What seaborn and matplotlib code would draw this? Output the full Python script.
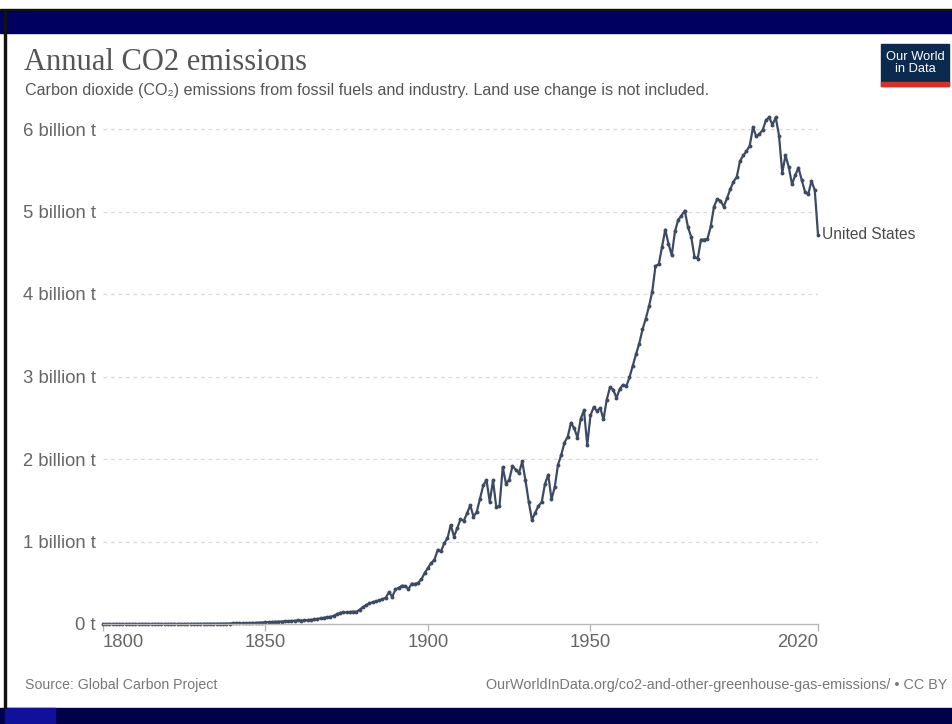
import numpy as np
import pandas as pd
import matplotlib
matplotlib.use('Agg')
import matplotlib.pyplot as plt
from matplotlib.patches import Rectangle
import seaborn as sns

# Annual CO2 emissions of the United States, billion tonnes
years = list(range(1800, 2021))
emissions = [
    # 1800s
    0.0003, 0.0003, 0.0003, 0.0003, 0.0004, 0.0004, 0.0004, 0.0004, 0.0004, 0.0005,
    0.0005, 0.0005, 0.0006, 0.0006, 0.0006, 0.0007, 0.0007, 0.0008, 0.0008, 0.0009,
    0.0009, 0.0010, 0.0011, 0.0012, 0.0013, 0.0014, 0.0015, 0.0016, 0.0018, 0.0019,
    0.0021, 0.0024, 0.0027, 0.0031, 0.0035, 0.0040, 0.0045, 0.0050, 0.0055, 0.0060,
    0.0065, 0.0070, 0.0078, 0.0088, 0.0098, 0.011, 0.012, 0.014, 0.016, 0.018,
    0.020, 0.022, 0.024, 0.026, 0.028, 0.030, 0.033, 0.035, 0.037, 0.040,
    0.043, 0.042, 0.044, 0.048, 0.052, 0.055, 0.062, 0.068, 0.075, 0.082,
    0.088, 0.100, 0.120, 0.135, 0.140, 0.140, 0.145, 0.150, 0.148, 0.175,
    0.205, 0.230, 0.250, 0.265, 0.275, 0.285, 0.300, 0.320, 0.385, 0.330,
    0.420, 0.440, 0.465, 0.460, 0.425, 0.490, 0.485, 0.500, 0.545, 0.620,
    # 1900s
    0.680, 0.740, 0.780, 0.900, 0.880, 0.980, 1.040, 1.200, 1.060, 1.160,
    1.270, 1.250, 1.340, 1.440, 1.300, 1.360, 1.520, 1.680, 1.745, 1.480,
    1.740, 1.420, 1.430, 1.900, 1.700, 1.750, 1.915, 1.870, 1.830, 1.970,
    1.740, 1.480, 1.260, 1.350, 1.430, 1.480, 1.700, 1.810, 1.510, 1.660,
    1.930, 2.050, 2.200, 2.270, 2.440, 2.370, 2.260, 2.490, 2.590, 2.170,
    2.530, 2.630, 2.580, 2.620, 2.480, 2.720, 2.870, 2.840, 2.740, 2.850,
    2.900, 2.880, 2.990, 3.130, 3.270, 3.400, 3.570, 3.700, 3.850, 4.030,
    4.340, 4.360, 4.570, 4.780, 4.610, 4.470, 4.760, 4.900, 4.950, 5.010,
    4.810, 4.690, 4.450, 4.430, 4.660, 4.660, 4.670, 4.820, 5.060, 5.150,
    5.130, 5.060, 5.160, 5.270, 5.360, 5.420, 5.610, 5.680, 5.730, 5.800,
    # 2000s
    6.020, 5.910, 5.940, 5.990, 6.110, 6.140, 6.050, 6.140, 5.920, 5.470,
    5.680, 5.540, 5.330, 5.440, 5.530, 5.380, 5.240, 5.210, 5.370, 5.260,
    4.720,
]
country = 'United States'
y_ticks = [0, 1, 2, 3, 4, 5, 6]
y_labels = ['0 t', '1 billion t', '2 billion t', '3 billion t',
            '4 billion t', '5 billion t', '6 billion t']
x_ticks = [1800, 1850, 1900, 1950, 2020]

df = pd.DataFrame({'Year': years, 'CO2': emissions})

sns.set_style('white')
plt.rcParams['font.family'] = ['Liberation Sans', 'DejaVu Sans']

W, H = 953, 724
fig = plt.figure(figsize=(W / 100, H / 100), dpi=100)

# frame: navy bands top and bottom, thin black edge on the left
fig.patches.append(Rectangle((0, 1 - 33 / H), 1, 23 / H, transform=fig.transFigure,
                             color='#000060', zorder=0))
fig.patches.append(Rectangle((0, 1 - 10 / H), 1, 1 / H, transform=fig.transFigure,
                             color='#111111', zorder=0))
fig.patches.append(Rectangle((0, 0), 1, 16 / H, transform=fig.transFigure,
                             color='#00004a', zorder=0))
fig.patches.append(Rectangle((5 / W, 0), 50 / W, 16 / H, transform=fig.transFigure,
                             color='#10109a', zorder=0))
fig.patches.append(Rectangle((4 / W, 16 / H), 2 / W, 1 - 26 / H, transform=fig.transFigure,
                             color='#111111', zorder=0))

ax = fig.add_axes([103 / W, (H - 624) / H, 715 / W, (624 - 112.5) / H])
ax.set_facecolor('white')

sns.lineplot(data=df, x='Year', y='CO2', ax=ax, color='#3c4b63', linewidth=1.6,
             marker='o', markersize=2.8, markeredgewidth=0, clip_on=False)

ax.set_xlim(1800, 2020)
ax.set_ylim(0, 6.2)
ax.set_yticks(y_ticks)
ax.set_yticklabels(y_labels)
ax.set_xticks(x_ticks)
ax.set_xlabel('')
ax.set_ylabel('')
for v in y_ticks[1:]:
    ax.axhline(v, color='#d9d9d9', linewidth=0.9, linestyle=(0, (3, 3)), zorder=0)

for s in ['top', 'right', 'left']:
    ax.spines[s].set_visible(False)
ax.spines['bottom'].set_color('#b8b8b8')
ax.spines['bottom'].set_linewidth(1)
ax.tick_params(axis='y', length=0, pad=5, labelsize=13.3, labelcolor='#666666')
ax.tick_params(axis='x', length=5, width=1, color='#b8b8b8', pad=2,
               labelsize=13.3, labelcolor='#666666', bottom=True)
xlabels = ax.get_xticklabels()
xlabels[0].set_horizontalalignment('left')
xlabels[-1].set_horizontalalignment('right')

ax.text(years[-1] + 1.3, emissions[-1], country, va='center', ha='left',
        fontsize=11.2, color='#4a4a4a', clip_on=False)

# titles
fig.text(24 / W, 1 - 63 / H, 'Annual CO2 emissions', family='Liberation Serif',
         fontsize=22, color='#555555', va='center', ha='left')
fig.text(25 / W, 1 - 91 / H,
         'Carbon dioxide (CO\u2082) emissions from fossil fuels and industry. '
         'Land use change is not included.',
         fontsize=11.6, color='#555555', va='center', ha='left',
         family=['Liberation Sans', 'DejaVu Sans'])

# logo
fig.patches.append(Rectangle((881 / W, 1 - 86 / H), 68 / W, 42 / H,
                             transform=fig.transFigure, color='#0b2a4e', zorder=2))
fig.patches.append(Rectangle((881 / W, 1 - 86 / H), 68 / W, 4 / H,
                             transform=fig.transFigure, color='#d4312a', zorder=3))
fig.text(915 / W, 1 - 63 / H, 'Our World\nin Data', color='white', fontsize=9.3,
         ha='center', va='center', linespacing=0.95, zorder=4)

# footer
fig.text(25 / W, 1 - 685 / H, 'Source: Global Carbon Project', fontsize=10.2,
         color='#777777', va='center', ha='left')
fig.text(947 / W, 1 - 685 / H,
         'OurWorldInData.org/co2-and-other-greenhouse-gas-emissions/ \u2022 CC BY',
         fontsize=10.4, color='#777777', va='center', ha='right')

fig.savefig('out.png', dpi=100, facecolor='white')
